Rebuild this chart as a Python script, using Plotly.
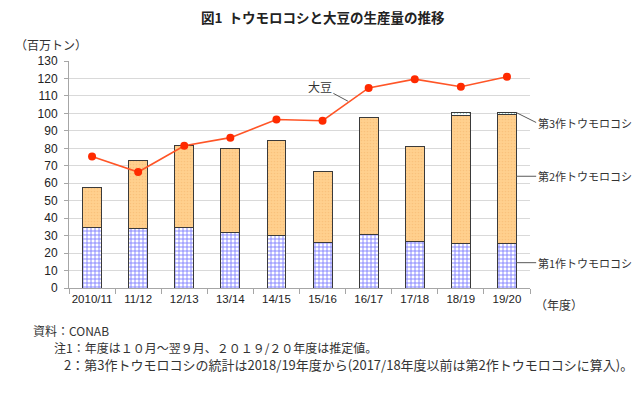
import plotly.graph_objects as go

categories = ["2010/11", "11/12", "12/13", "13/14", "14/15", "15/16", "16/17", "17/18", "18/19", "19/20"]
corn_1st = [34.9, 33.9, 34.6, 31.7, 30.1, 25.8, 30.5, 26.8, 25.6, 25.3]
corn_2nd = [22.5, 39.1, 47.0, 48.4, 54.6, 40.7, 67.4, 54.0, 73.3, 73.8]
corn_3rd = [None, None, None, None, None, None, None, None, 1.4, 1.6]
soybean = [75.3, 66.4, 81.5, 86.1, 96.5, 95.8, 114.6, 119.6, 115.3, 121.0]

JP = "Noto Sans CJK JP"
NUM = "Liberation Sans, Noto Sans CJK JP"
edge = dict(color="#3a3a3a", width=1)

OFF = 8  # browser body margin
L, R, T, B = 69 - OFF, 530 - OFF, 61 - OFF, 288 - OFF
W, H = 640 - OFF, 396 - OFF


def px(x):
    return (x - OFF - L) / (R - L)


def py(y):
    return (B - (y - OFF)) / (B - T)


fig = go.Figure()
fig.add_trace(go.Bar(
    x=categories, y=corn_1st, name="第1作トウモロコシ", width=0.41,
    marker=dict(color="white", line=edge,
                pattern=dict(shape="+", fgcolor="#0000FF", bgcolor="white", size=4, solidity=0.4)),
))
fig.add_trace(go.Bar(
    x=categories, y=corn_2nd, name="第2作トウモロコシ", width=0.41,
    marker=dict(color="#FFCD86", line=edge,
                pattern=dict(shape=".", fgcolor="#F4B46A", bgcolor="#FFD08E", size=3, solidity=0.25)),
))
fig.add_trace(go.Bar(
    x=categories, y=corn_3rd, name="第3作トウモロコシ", width=0.41,
    marker=dict(color="white", line=edge,
                pattern=dict(shape=".", fgcolor="#3a9a9a", bgcolor="white", size=3, solidity=0.2)),
))
fig.add_trace(go.Scatter(
    x=categories, y=soybean, name="大豆", mode="lines+markers",
    line=dict(color="#FF5527", width=1.6),
    marker=dict(color="#FF2A00", size=8),
))

lab_font = dict(family=JP, size=11, color="#333333")
txt_font = dict(family=JP, size=12, color="#333333")
ann = [
    dict(x=5.55, y=107, xref="x", yref="y", text="大豆", showarrow=True, arrowhead=0,
         arrowwidth=1, arrowcolor="#595959", ax=-28, ay=-15, font=dict(family=JP, size=12, color="#333333")),
    dict(x=9.2, y=100.5, xref="x", yref="y", text="第3作トウモロコシ", showarrow=True, arrowhead=0,
         arrowwidth=1, arrowcolor="#595959", ax=20, ay=10, xanchor="left", font=lab_font),
    dict(x=9.2, y=64, xref="x", yref="y", text="第2作トウモロコシ", showarrow=True, arrowhead=0,
         arrowwidth=1, arrowcolor="#595959", ax=20, ay=0, xanchor="left", font=lab_font),
    dict(x=9.2, y=14.5, xref="x", yref="y", text="第1作トウモロコシ", showarrow=True, arrowhead=0,
         arrowwidth=1, arrowcolor="#595959", ax=20, ay=0, xanchor="left", font=lab_font),
    dict(x=px(323), y=py(17.5), text="<b>図1  トウモロコシと大豆の生産量の推移</b>", borderpad=0,
         font=dict(family=JP, size=13.5, color="#222222"), xanchor="center"),
    dict(x=px(13), y=py(45), text="（百万トン）", font=txt_font, xanchor="left"),
    dict(x=px(533), y=py(304), text="（年度）", font=txt_font, xanchor="left"),
    dict(x=px(31), y=py(330), text="資料：CONAB", font=txt_font, xanchor="left"),
    dict(x=px(52), y=py(347), text="注1：年度は１０月～翌９月、２０１９/２０年度は推定値。",
         font=txt_font, xanchor="left"),
    dict(x=px(62), y=py(364),
         text="2：第3作トウモロコシの統計は2018/19年度から(2017/18年度以前は第2作トウモロコシに算入)。",
         font=dict(family=JP, size=13, color="#333333"), xanchor="left"),
]
for a in ann:
    if "xref" not in a:
        a.update(xref="paper", yref="paper", showarrow=False, yanchor="middle")

fig.update_layout(
    width=W, height=H,
    margin=dict(l=L, r=W - R, t=T, b=H - B),
    paper_bgcolor="white", plot_bgcolor="white",
    barmode="stack", showlegend=False,
    annotations=ann,
    xaxis=dict(type="category", showline=True, linecolor="#A6A6A6", linewidth=1,
               ticks="outside", tickson="boundaries", ticklen=5, tickcolor="#A6A6A6",
               tickangle=0, automargin=False,
               tickfont=dict(family=NUM, size=11.5, color="#222222"), showgrid=False,
               range=[-0.5, 9.5]),
    yaxis=dict(range=[0, 130], dtick=10, showline=True, linecolor="#A6A6A6", linewidth=1,
               ticks="outside", ticklen=4, tickcolor="#A6A6A6", automargin=False,
               showgrid=True, gridcolor="#D9D9D9", gridwidth=1,
               tickfont=dict(family=NUM, size=12, color="#222222"), ticklabelstandoff=4,
               zeroline=False),
)
fig.write_html("out.html")
